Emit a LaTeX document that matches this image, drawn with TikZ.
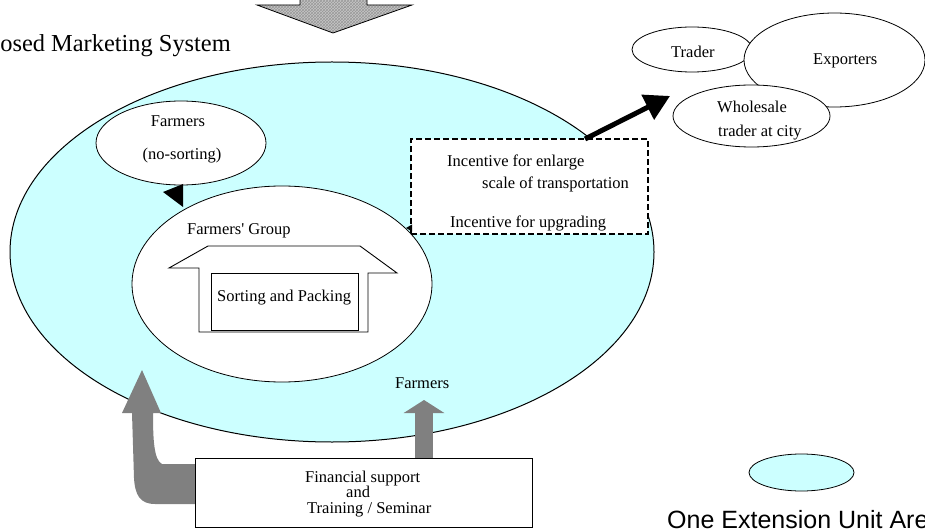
\documentclass[tikz,border=0pt]{standalone}
\usepackage{fontspec}
\setmainfont{Liberation Serif}
\newfontfamily\legendfont{Liberation Sans}
\usetikzlibrary{shapes.geometric,arrows.meta,patterns,calc}
\definecolor{areacyan}{RGB}{204,255,255}
\definecolor{arrowgray}{RGB}{128,128,128}
\begin{document}
\begin{tikzpicture}[x=1pt,y=-1pt,
  oval/.style={draw,ellipse,inner sep=0pt,line width=0.8pt},
  lbl/.style={font=\fontsize{16.5}{18}\selectfont,inner sep=0pt,anchor=base west},
  blockarrow/.style={fill=arrowgray},
  ]
\useasboundingbox (0,0) rectangle (925,529);
\clip (0,0) rectangle (925,529);

% top hatched arrow
\path[fill=gray!45] (300,-5) -- (300,5) -- (257,5) -- (333,33) -- (412,5) -- (367,5) -- (367,-5) -- cycle;
\path[pattern=crosshatch,pattern color=gray!80] (300,-5) -- (300,5) -- (257,5) -- (333,33) -- (412,5) -- (367,5) -- (367,-5) -- cycle;
\draw[line width=0.8pt] (300,-5) -- (300,5) -- (257,5) -- (333,33) -- (412,5) -- (367,5) -- (367,-5);

% title
\node[font=\fontsize{24.4}{26}\selectfont,inner sep=0pt,anchor=base east] (title) at (231,52) {Proposed Marketing System};

% extension unit area
\node[oval,fill=areacyan,line width=1pt,minimum width=644pt,minimum height=380pt] (area) at (332,252) {};

% farmers (no-sorting)
\node[oval,fill=white,minimum width=170pt,minimum height=84pt] (farm) at (181,143) {};
\node[lbl,anchor=base] (farmT) at (178,127) {Farmers};
\node[lbl,anchor=base] (farmS) at (182,160) {(no-sorting)};

% farmers' group
\node[oval,fill=white,minimum width=300pt,minimum height=196pt] (group) at (282,284) {};
\node[lbl] (groupT) at (187,234) {Farmers\textquotesingle\ Group};
\fill (163,192) -- (183,184) -- (183,207) -- cycle;

% house
\draw[fill=white,line width=0.9pt] (169,268) -- (208,246) -- (360,246) -- (397,273) -- (368,273) -- (368,332) -- (199,332) -- (199,268) -- cycle;
\node[draw,fill=white,line width=0.9pt,minimum width=147pt,minimum height=57pt,inner sep=0pt] (sort) at (284.5,301.5) {};
\node[lbl] (sortT) at (217,301) {Sorting and Packing};

% incentive box
\node[draw,dash pattern=on 6pt off 3pt,line width=1.7pt,fill=white,minimum width=237pt,minimum height=95pt,inner sep=0pt] (incent) at (529.5,186.5) {};
\node[lbl] (inc1) at (447,167) {Incentive for enlarge};
\node[lbl] (inc2) at (482,189) {scale of transportation};
\node[lbl] (inc3) at (450,227) {Incentive for upgrading};
\fill (406,228) -- (412,224.5) -- (412,231.5) -- cycle;

% black arrow to markets
\coordinate (exitpt) at (585,139);
\coordinate (mkt) at (670,96);
\draw[line width=5pt,-{Triangle[length=25pt,width=27pt]}] (exitpt) -- (mkt);

% markets
\node[oval,fill=white,minimum width=120pt,minimum height=45pt] (trader) at (692,49.5) {};
\node[oval,fill=white,minimum width=181pt,minimum height=94pt] (export) at (834.5,60) {};
\node[oval,fill=white,minimum width=157pt,minimum height=62pt] (whole) at (751.5,116) {};
\node[lbl] (traderT) at (671,58) {Trader};
\node[lbl] (exportT) at (813,65) {Exporters};
\node[lbl] (wholeT) at (717,113) {Wholesale};
\node[lbl] (wholeS) at (718,137) {trader at city};

% gray arrows
\fill[blockarrow] (142,370) -- (161,413) -- (153,413) .. controls (153,440) and (154,460) .. (162,464) -- (200,464) -- (200,504) -- (155,504) .. controls (140,504) and (135,495) .. (134,478) -- (132,413) -- (122,413) -- cycle;
\coordinate (finup) at (424,460);
\coordinate (farmB) at (424,400);
\draw[arrowgray,line width=18pt,-{Triangle[length=13pt,width=40pt]}] (finup) -- (farmB);
\node[lbl] (farmersB) at (395,388) {Farmers};

% financial support box
\node[draw,fill=white,line width=1pt,minimum width=337pt,minimum height=69pt,inner sep=0pt] (fin) at (363.5,492.5) {};
\node[lbl] (fin1) at (305,482) {Financial support};
\node[lbl] (fin2) at (346,497) {and};
\node[lbl] (fin3) at (307,513) {Training / Seminar};

% legend
\node[oval,fill=areacyan,minimum width=105pt,minimum height=37pt] (legend) at (801.5,472.5) {};
\node[font=\legendfont\fontsize{25}{27}\selectfont,inner sep=0pt,anchor=base west] (legendT) at (667,528) {One Extension Unit Area};
\end{tikzpicture}
\end{document}
